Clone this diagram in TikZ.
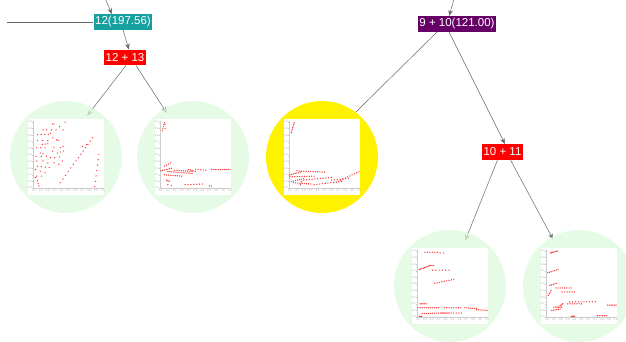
\documentclass[tikz,border=0pt]{standalone}
\usepackage{fontspec}
\setmainfont{Liberation Sans}
\usetikzlibrary{arrows.meta,backgrounds}
\definecolor{nodeteal}{RGB}{22,160,160}
\definecolor{nodepurple}{RGB}{102,0,102}
\definecolor{nodered}{RGB}{255,0,0}
\definecolor{leafgreen}{RGB}{222,250,222}
\definecolor{dotred}{RGB}{250,50,50}
\tikzset{
	boxnode/.style={text=white,inner xsep=1.5pt,inner ysep=0pt,minimum height=15.5pt,font=\fontsize{11.5}{13}\selectfont},
	leaf/.style={circle,fill=leafgreen,fill opacity=.75,minimum size=112pt,inner sep=0pt},
	link/.style={draw=black!60,line width=.5pt},
	linkarrow/.style={link,-{Stealth[length=6pt,width=4.5pt]}},
	axisline/.style={draw=gray!40,line width=.4pt},
	ticklbl/.style={text=gray!70,font=\fontsize{2.6}{3}\selectfont,inner sep=.3pt},
}
\newcommand\plotpanel[2]{%
	\begin{scope}[shift={(#1.center)}]
		\fill[white] (-38,-38) rectangle (38,38);
		\draw[axisline] (-33,-36) -- (-33,31) -- (37,31);
		\foreach \k/\t in {0/0.0,1/0.1,2/0.2,3/0.3,4/0.4,5/0.5,6/0.6,7/0.7,8/0.8,9/0.9,10/1.0}{
			\draw[axisline] ({-32+6.9*\k},31) -- ++(0,1);
			\node[ticklbl,anchor=north] at ({-32+6.9*\k},32.5) {\t};
			\draw[axisline] (-33,{31-6.6*\k}) -- ++(-1,0);
			\node[ticklbl,anchor=east] at (-34,{31-6.6*\k}) {\t};
		}
		\foreach \ua/\va/\ub/\vb/\n in {#2}{
			\foreach \i in {0,...,\n}{
				\pgfmathsetmacro\s{\i/max(\n,1)}
				\fill[dotred] ({-32+69*(\ua+(\ub-\ua)*\s)},{31-66*(\va+(\vb-\va)*\s)}) circle (.7pt);
			}
		}
	\end{scope}}
\begin{document}
\begin{tikzpicture}[x=1pt,y=-1pt,line join=round,line cap=round]
	\useasboundingbox (0,0) rectangle (626,341);
	\path
	(7,22) coordinate (rootin)
	(104,-4) coordinate (rootA)
	(455,-4) coordinate (rootB)
	;
	\node[boxnode,fill=nodeteal] (n12) at (123,22) {12(197.56)};
	\node[boxnode,fill=nodered] (n1213) at (125,57.5) {12 + 13};
	\node[boxnode,fill=nodepurple] (n910) at (457,24) {9 + 10(121.00)};
	\node[boxnode,fill=nodered] (n1011) at (502.5,152) {10 + 11};
	\node[leaf] (leafA) at (66,157) {};
	\node[leaf] (leafB) at (193,157) {};
	\node[leaf,fill=yellow,fill opacity=1] (leafY) at (322,157) {};
	\node[leaf] (leafC) at (450,286) {};
	\node[leaf] (leafD) at (579,286) {};
	\begin{scope}[on background layer]
		\draw[link] (rootin) -- (n12.west);
		\draw[linkarrow] (rootA) -- ([xshift=-11pt]n12.north);
		\draw[linkarrow] (n12.south) -- ([xshift=4pt]n1213.north);
		\draw[linkarrow,shorten >=-10pt] ([xshift=1pt]n1213.south) -- (leafA.61);
		\draw[linkarrow,shorten >=-5pt] ([xshift=11pt]n1213.south) -- (leafB.121);
		\draw[linkarrow] (rootB) -- ([xshift=-8pt]n910.north);
		\draw[link,shorten >=-6pt] ([xshift=-20pt]n910.south) -- (leafY.53);
		\draw[linkarrow] ([xshift=-8pt]n910.south) -- ([xshift=2.5pt]n1011.north);
		\draw[linkarrow,shorten >=-8pt] ([xshift=-5pt]n1011.south) -- (leafC.71);
		\draw[linkarrow,shorten >=-3pt] ([xshift=8pt]n1011.south) -- (leafD.119);
	\end{scope}
	\plotpanel{leafA}{.27/.97/.29/.97/1,.45/1/.45/1/0,.13/.88/.18/.88/1,.25/.88/.32/.88/1,.37/.93/.37/.93/0,.42/.88/.42/.88/0,
		.05/.81/.21/.81/3,.24/.83/.24/.83/0,.27/.76/.27/.76/0,.33/.73/.35/.72/1,.05/.72/.2/.72/2,.12/.66/.2/.67/2,
		.04/.61/.16/.61/2,.29/.61/.29/.61/0,.38/.61/.42/.63/1,.09/.53/.13/.52/1,.27/.56/.27/.56/0,.34/.53/.43/.56/2,
		.03/.48/.18/.48/2,.24/.46/.3/.46/1,.37/.47/.37/.47/0,.41/.41/.41/.41/0,.04/.41/.13/.41/1,.2/.38/.29/.38/1,
		.36/.36/.36/.36/0,.05/.33/.22/.31/3,.02/.28/.16/.23/2,.04/.18/.11/.18/1,.02/.16/.02/.16/0,.05/.11/.07/.03/2,
		.38/.08/.57/.36/5,.61/.41/.85/.76/7,.7/.63/.76/.66/1,.94/.51/.88/.02/6}
	\plotpanel{leafB}{.02/.87/.05/.99/4,.06/.97/.06/.9/1,.0/.26/.15/.3/6,.05/.33/.14/.38/3,.1/.25/.45/.22/12,.05/.2/.3/.18/8,
		.2/.27/.45/.25/8,.4/.28/.5/.25/4,.73/.28/1/.28/10,.5/.28/.65/.27/4,.08/.12/.12/.1/2,.1/.05/.15/.04/1,
		.35/.05/.6/.06/6,.7/.03/.73/.03/1}
	\plotpanel{leafY}{.02/.84/.06/.99/6,.0/.2/.15/.24/6,.1/.26/.5/.24/12,.0/.17/.35/.18/10,.02/.1/.2/.14/6,.05/.08/.3/.06/8,
		.2/.12/.6/.16/10,.35/.05/.75/.1/10,.7/.1/1/.25/9,.6/.12/.85/.15/6,.15/.05/.17/.1/2}
	\plotpanel{leafC}{.1/.98/.28/.98/5,.32/.97/.37/.97/1,.02/.72/.15/.77/7,.17/.78/.22/.78/3,.21/.71/.45/.71/5,.24/.51/.52/.57/8,
		.03/.2/.12/.2/4,.0/.14/.3/.14/10,.38/.14/.62/.14/7,.68/.14/.85/.13/6,.85/.11/1/.1/5,.06/.05/.3/.06/8,
		.33/.06/.45/.06/8,.48/.06/.63/.06/4,.02/.01/.05/.01/2}
	\plotpanel{leafD}{.05/.97/.15/1/6,.01/.67/.16/.72/6,.04/.48/.14/.51/4,.13/.44/.35/.44/7,.22/.38/.4/.38/5,.02/.33/.06/.4/3,
		.33/.23/.7/.23/9,.3/.2/.5/.2/6,.19/.17/.23/.2/3,.1/.15/.21/.15/5,.07/.1/.19/.12/5,.88/.18/1/.18/5,
		.35/.01/.4/.01/3,.73/.02/.86/.02/5}
\end{tikzpicture}
\end{document}
